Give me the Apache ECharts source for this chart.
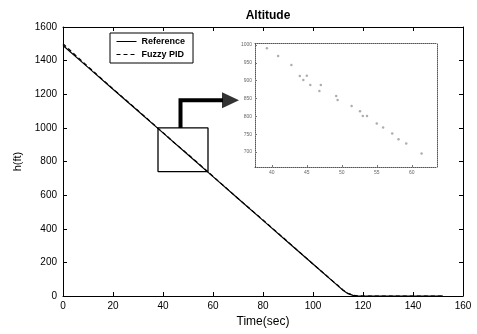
<!DOCTYPE html>
<html><head><meta charset="utf-8">
<script src="https://cdn.jsdelivr.net/npm/echarts@6/dist/echarts.min.js"></script>
<style>html,body{margin:0;padding:0;background:#fff}#c{width:477px;height:334px}</style>
</head><body><div id="c"></div>
<script>
// ---- data ----
const refTime   = [0, 10, 20, 30, 40, 50, 60, 70, 80, 90, 100, 110, 112, 114, 116, 118, 120, 130, 140, 150, 152];
const refAlt    = [1490, 1360, 1230, 1100, 970, 840, 710, 580, 450, 320, 190, 60, 34, 14, 4, 0, 0, 0, 0, 0, 0];
const fuzzyTime = [0, 5, 10, 20, 30, 40, 45, 50, 60, 70, 80, 90, 100, 110, 112, 114, 116, 118, 120, 130, 140, 150, 152];
const fuzzyAlt  = [1500, 1432, 1365, 1232, 1103, 972, 905, 843, 712, 580, 452, 322, 190, 62, 36, 16, 5, 1, 0, 0, 0, 0, 0];
const xTicks = [0, 20, 40, 60, 80, 100, 120, 140, 160];
const yTicks = [0, 200, 400, 600, 800, 1000, 1200, 1400, 1600];
// zoom box and arrow (data coordinates)
const boxTime = [38, 58, 58, 38, 38];
const boxAlt  = [1000, 1000, 740, 740, 1000];
const arrowTime = [47, 47, 64];
const arrowAlt  = [1000, 1165, 1165];
const arrowHead = [67, 1165];
// inset
const insetX = [39.3, 40.9, 42.8, 44.0, 44.5, 45.0, 45.5, 47.0, 46.8, 49.2, 49.4, 51.4, 52.6, 53.0, 53.6, 55.0, 55.9, 57.2, 58.1, 59.2, 61.4];
const insetY = [991, 969, 944, 913, 902, 914, 888, 888, 871, 857, 846, 829, 814, 801, 801, 780, 769, 752, 736, 724, 696];
const insetXTicks = [40, 45, 50, 55, 60];
const insetYTicks = [700, 750, 800, 850, 900, 950, 1000];

const zip = (a, b) => a.map((v, i) => [v, b[i]]);
const plain = v => String(v);
const F = 'Liberation Sans, Arial, sans-serif';
const axisCommon = {
  axisLine: {show: true, onZero: false, lineStyle: {color: '#000', width: 1}},
  axisTick: {show: true, inside: true, length: 4, lineStyle: {color: '#000'}},
  splitLine: {show: false},
};
const insetAxis = {
  axisLine: {show: true, onZero: false, lineStyle: {color: '#555', width: 1, type: 'dotted'}},
  splitLine: {show: false},
};

const chart = echarts.init(document.getElementById('c'), null, {renderer: 'canvas'});
chart.setOption({
  animation: false,
  backgroundColor: '#fff',
  title: {text: 'Altitude', left: 263, textAlign: 'center', top: 5,
    textStyle: {fontFamily: F, fontSize: 12, fontWeight: 'bold', color: '#000'}},
  legend: {
    data: ['Reference', 'Fuzzy PID'], orient: 'vertical', left: 110, top: 33,
    borderColor: '#000', borderWidth: 1, padding: [4, 8, 4, 6], itemGap: 4,
    itemWidth: 20, itemHeight: 8, backgroundColor: '#fff',
    itemStyle: {opacity: 0},
    lineStyle: {width: 1},
    textStyle: {fontFamily: F, fontSize: 9, fontWeight: 'bold', color: '#000'}
  },
  grid: [
    {left: 63, top: 27, width: 400, height: 269},
    {left: 255, top: 43, width: 182, height: 124, show: true, backgroundColor: '#fff', borderWidth: 0, z: 5}
  ],
  xAxis: [
    Object.assign({type: 'value', gridIndex: 0, position: 'bottom', min: 0, max: 160, interval: 20,
      name: 'Time(sec)', nameLocation: 'middle', nameGap: 20,
      nameTextStyle: {fontFamily: F, fontSize: 12, color: '#000'},
      axisLabel: {fontFamily: F, fontSize: 10, color: '#000', margin: 5, formatter: plain}}, axisCommon),
    Object.assign({type: 'value', gridIndex: 0, position: 'top', min: 0, max: 160, interval: 20,
      axisLabel: {show: false}}, axisCommon),
    Object.assign({type: 'value', gridIndex: 1, position: 'bottom', min: 37.6, max: 63.6,
      axisLabel: {customValues: insetXTicks, fontFamily: F, fontSize: 5, color: '#666', margin: 3, formatter: plain},
      axisTick: {show: true, customValues: insetXTicks, inside: true, length: 2, lineStyle: {color: '#777'}},
      z: 6}, insetAxis),
    Object.assign({type: 'value', gridIndex: 1, position: 'top', min: 37.6, max: 63.6,
      axisLabel: {show: false}, axisTick: {show: false}, z: 6}, insetAxis)
  ],
  yAxis: [
    Object.assign({type: 'value', gridIndex: 0, position: 'left', min: 0, max: 1600, interval: 200,
      name: 'h(ft)', nameLocation: 'middle', nameGap: 36, nameRotate: 90,
      nameTextStyle: {fontFamily: F, fontSize: 11, color: '#000'},
      axisLabel: {fontFamily: F, fontSize: 10, color: '#000', margin: 6, formatter: plain}}, axisCommon),
    Object.assign({type: 'value', gridIndex: 0, position: 'right', min: 0, max: 1600, interval: 200,
      axisLabel: {show: false}}, axisCommon),
    Object.assign({type: 'value', gridIndex: 1, position: 'left', min: 658, max: 1005.6,
      axisLabel: {customValues: insetYTicks, fontFamily: F, fontSize: 5, color: '#666', margin: 3, formatter: plain},
      axisTick: {show: true, customValues: insetYTicks, inside: true, length: 2, lineStyle: {color: '#777'}},
      z: 6}, insetAxis),
    Object.assign({type: 'value', gridIndex: 1, position: 'right', min: 658, max: 1005.6,
      axisLabel: {show: false}, axisTick: {show: false}, z: 6}, insetAxis)
  ],
  series: [
    {name: 'Reference', type: 'line', xAxisIndex: 0, yAxisIndex: 0, data: zip(refTime, refAlt),
      showSymbol: false, symbol: 'none', lineStyle: {color: '#000', width: 1.2, type: 'solid'}, itemStyle: {color: '#000'}},
    {name: 'Fuzzy PID', type: 'line', xAxisIndex: 0, yAxisIndex: 0, data: zip(fuzzyTime, fuzzyAlt),
      showSymbol: false, symbol: 'none', lineStyle: {color: '#000', width: 1.2, type: [4, 3]}, itemStyle: {color: '#000'}},
    {name: 'box', type: 'line', xAxisIndex: 0, yAxisIndex: 0, data: zip(boxTime, boxAlt),
      symbol: 'none', lineStyle: {color: '#000', width: 1.3}, silent: true},
    {name: 'arrow', type: 'line', xAxisIndex: 0, yAxisIndex: 0, data: zip(arrowTime, arrowAlt),
      symbol: 'none', lineStyle: {color: '#000', width: 4, join: 'miter'}, silent: true},
    {name: 'arrowHead', type: 'scatter', xAxisIndex: 0, yAxisIndex: 0, data: [arrowHead],
      symbol: 'triangle', symbolSize: [16, 17], symbolRotate: -90, itemStyle: {color: '#000'}, silent: true},
    {name: 'inset', type: 'scatter', xAxisIndex: 2, yAxisIndex: 2, data: zip(insetX, insetY),
      symbol: 'circle', symbolSize: 2.5, itemStyle: {color: '#999'}, z: 7, silent: true}
  ]
});
</script></body></html>
